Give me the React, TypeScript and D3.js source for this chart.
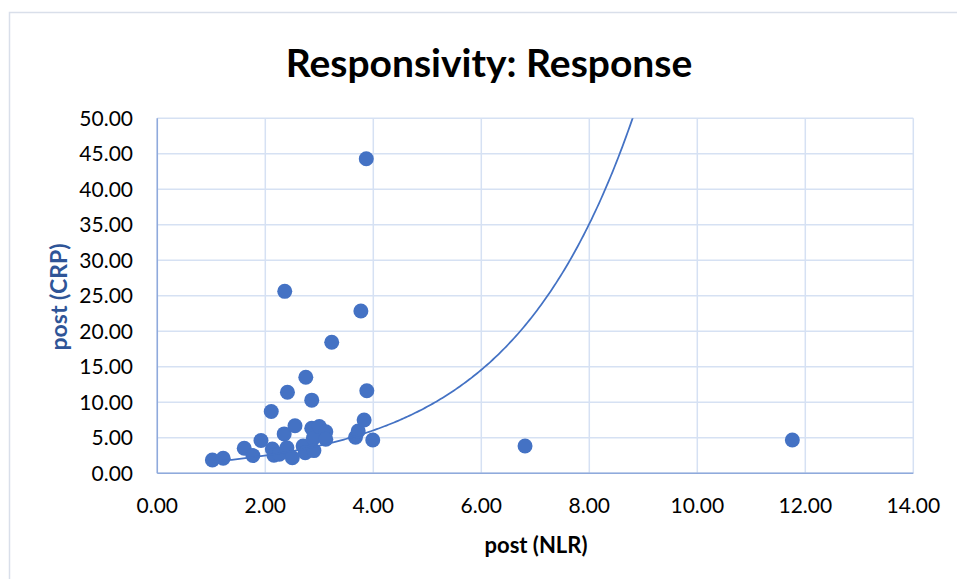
import React from "react";
import * as d3 from "d3";

const nlr: number[] = [1.02, 1.22, 1.61, 1.77, 1.92, 2.11, 2.13, 2.16, 2.26, 2.35, 2.4, 2.41, 2.36, 2.5, 2.55, 2.7, 2.74, 2.75, 2.86, 2.86, 2.89, 2.9, 3.0, 3.12, 3.12, 3.23, 3.67, 3.72, 3.77, 3.83, 3.87, 3.88, 3.99, 6.81, 11.76];
const crp: number[] = [1.87, 2.12, 3.52, 2.5, 4.62, 8.7, 3.42, 2.55, 2.7, 5.55, 3.6, 11.41, 25.63, 2.2, 6.7, 3.85, 2.9, 13.52, 10.3, 6.34, 4.95, 3.2, 6.6, 5.86, 4.79, 18.45, 5.07, 5.96, 22.86, 7.51, 44.31, 11.63, 4.69, 3.85, 4.69];
const xTicks: number[] = [0, 2, 4, 6, 8, 10, 12, 14];
const yTicks: number[] = [0, 5, 10, 15, 20, 25, 30, 35, 40, 45, 50];
const trendA = 1.04;
const trendB = 0.44;

const title = "Responsivity: Response";
const xTitle = "post (NLR)";
const yTitle = "post (CRP)";

export default function App() {
  const W = 957, H = 579;
  const left = 157.3, right = 913.3, top = 118.3, bottom = 473.3;
  const x = d3.scaleLinear().domain([0, 14]).range([left, right]);
  const y = d3.scaleLinear().domain([0, 50]).range([bottom, top]);
  const xmin = d3.min(nlr) as number;
  const xmax = d3.max(nlr) as number;
  const trendPts: [number, number][] = d3.range(0, 301).map((i) => {
    const v = xmin + ((xmax - xmin) * i) / 300;
    return [v, trendA * Math.exp(trendB * v)];
  });
  const line = d3.line<[number, number]>().x((d) => x(d[0])).y((d) => y(Math.min(d[1], 60)));
  const font = "Lato, 'Open Sans', sans-serif";
  return (
    <svg width={W} height={H} style={{ position: "absolute", left: 0, top: 0, background: "#fff" }}>
      <defs>
        <clipPath id="plotclip">
          <rect x={left} y={top} width={right - left} height={bottom - top} />
        </clipPath>
      </defs>
      <rect x={9.5} y={12.5} width={1000} height={700} fill="#fff" stroke="#D9DFEA" strokeWidth={1.5} />
      <text x={489} y={77} textAnchor="middle" fontFamily={font} fontWeight={700} fontSize={39} fill="#000">{title}</text>
      {yTicks.map((t) => (
        <line key={"gy" + t} x1={left} x2={right} y1={y(t)} y2={y(t)} stroke="#D6E1F3" strokeWidth={1.5} />
      ))}
      {xTicks.map((t) => (
        <line key={"gx" + t} x1={x(t)} x2={x(t)} y1={top} y2={bottom} stroke="#D6E1F3" strokeWidth={1.5} />
      ))}
      <line x1={left} x2={left} y1={top} y2={bottom} stroke="#8FAADC" strokeWidth={1.5} />
      <line x1={left} x2={right} y1={bottom} y2={bottom} stroke="#8FAADC" strokeWidth={1.5} />
      {yTicks.map((t) => (
        <text key={"ly" + t} x={133} y={y(t)} dy="0.36em" textAnchor="end" fontFamily={font} fontSize={21} fill="#000">{t.toFixed(2)}</text>
      ))}
      {xTicks.map((t) => (
        <text key={"lx" + t} x={x(t)} y={513} textAnchor="middle" fontFamily={font} fontSize={21} fill="#000">{t.toFixed(2)}</text>
      ))}
      <text x={536} y={553} textAnchor="middle" fontFamily={font} fontWeight={700} fontSize={22} fill="#000">{xTitle}</text>
      <text transform="translate(67,297) rotate(-90)" textAnchor="middle" fontFamily={font} fontWeight={700} fontSize={23} fill="#2F5597">{yTitle}</text>
      {nlr.map((v, i) => (
        <circle key={"p" + i} cx={x(v)} cy={y(crp[i])} r={7.5} fill="#4472C4" />
      ))}
      <path d={line(trendPts) || ""} fill="none" stroke="#4472C4" strokeWidth={1.75} clipPath="url(#plotclip)" />
    </svg>
  );
}
